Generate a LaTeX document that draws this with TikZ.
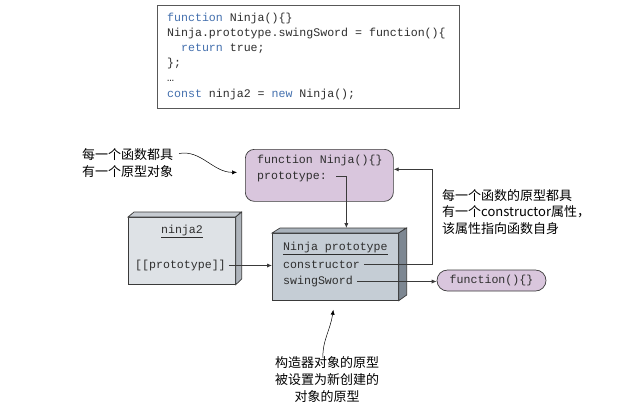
\documentclass[tikz,border=0pt]{standalone}
\usepackage{fontspec}
\setmonofont{Liberation Mono}
\newfontfamily\cjk{Noto Sans CJK SC}
\usetikzlibrary{arrows.meta,shapes.misc}
\definecolor{kw}{HTML}{4470AE}
\definecolor{codetxt}{HTML}{2E2E2E}
\definecolor{lav}{HTML}{D9C6DD}
\definecolor{edge}{HTML}{3A3A3A}
\definecolor{protofront}{HTML}{C5CDD5}
\definecolor{protoside}{HTML}{7D8792}
\definecolor{prototop}{HTML}{A9B2BB}
\definecolor{nfront}{HTML}{DEE2E6}
\definecolor{nside}{HTML}{AEB4BB}
\definecolor{ntop}{HTML}{C6CBD1}
\begin{document}
\begin{tikzpicture}[x=1bp,y=-1bp,
  mono/.style={font=\fontsize{11.6bp}{15.4bp}\selectfont\ttfamily, text=codetxt, inner sep=0pt},
  cn/.style={font=\cjk\fontsize{13bp}{16.5bp}\selectfont, text=black, inner sep=0pt},
  boxline/.style={draw=edge, line width=0.7bp},
  conn/.style={draw=edge, line width=0.8bp, -{Latex[length=5bp,width=4.2bp]}},
  notearrow/.style={draw=black, line width=0.5bp, -{Latex[length=5bp,width=4.2bp]}},
  kwd/.style={}]
\useasboundingbox[fill=white] (0,0) rectangle (636,418);

% code box
\node[draw=edge!85, line width=0.7bp, anchor=north west, minimum width=302bp, minimum height=103bp, inner sep=0pt] (code) at (157,5) {};
\node[mono, anchor=base west] (c1) at (167,21) {\textcolor{kw}{function} Ninja()\{\}};
\node[mono, anchor=base west] (c2) at (167,36.2) {Ninja.prototype.swingSword = function()\{};
\node[mono, anchor=base west] (c3) at (167,51.4) {\ \ \textcolor{kw}{return} true;};
\node[mono, anchor=base west] (c4) at (167,66.6) {\};};
\node[mono, anchor=base west] (c5) at (167,81.8) {…};
\node[mono, anchor=base west] (c6) at (167,97) {\textcolor{kw}{const} ninja2 = \textcolor{kw}{new} Ninja();};

% function Ninja box
\node[boxline, fill=lav, rounded corners=9bp, anchor=north west, minimum width=148bp, minimum height=52bp, inner sep=0pt] (fn) at (245,149) {};
\node[mono, anchor=base west] (fnA) at (257,163) {function Ninja()\{\}};
\node[mono, anchor=base west] (fnB) at (257,179) {prototype:};

% ninja2 3D box
\node[boxline, fill=nfront, anchor=north west, minimum width=107bp, minimum height=67bp, inner sep=0pt] (n2) at (128,217) {};
\draw[boxline, fill=ntop] (n2.north west) -- ++(6,-5) -- ++(107,0) -- (n2.north east) -- cycle;
\draw[boxline, fill=nside] (n2.north east) -- ++(6,-5) -- ++(0,67) -- (n2.south east) -- cycle;
\node[mono, anchor=base] (n2t) at (182,233) {\underline{ninja2}};
\node[mono, anchor=base west] (n2p) at (135,268.5) {[[prototype]]};

% Ninja prototype 3D box
\node[boxline, fill=protofront, anchor=north west, minimum width=126bp, minimum height=67bp, inner sep=0pt] (proto) at (272,233) {};
\draw[boxline, fill=prototop] (proto.north west) -- ++(8,-5) -- ++(126,0) -- (proto.north east) -- cycle;
\draw[boxline, fill=protoside] (proto.north east) -- ++(8,-5) -- ++(0,67) -- (proto.south east) -- cycle;
\node[mono, anchor=base west] (pt) at (283,250) {\underline{Ninja prototype}};
\node[mono, anchor=base west] (pc) at (283,268.5) {constructor};
\node[mono, anchor=base west] (ps) at (283,284.5) {swingSword};

% function(){} box
\node[boxline, fill=lav, rounded rectangle, minimum width=109bp, minimum height=21bp, inner sep=0pt, mono] (fsmall) at (491.5,280.5) {function()\{\}};

% connectors
\coordinate (pstart) at ([xshift=9bp]fnB.east);
\coordinate (ptop) at ([shift={(11,-5)}]proto.north);
\draw[conn] (pstart) -| (ptop);

\coordinate (cstart) at ([xshift=4bp]pc.east);
\coordinate (ccorner) at ([xshift=39bp,yshift=6bp]fn.east);
\draw[conn] (cstart) -| (ccorner) -- (fn.east |- ccorner);

\coordinate (sstart) at ([xshift=4bp]ps.east);
\draw[conn] (sstart) -- (sstart -| fsmall.west);

\coordinate (nstart) at ([xshift=3bp]n2p.east);
\draw[conn] (nstart) -- (nstart -| proto.west);

% annotations
\node[cn, anchor=west, align=left] (lnote) at (82,163) {每一个函数都具\\有一个原型对象};
\node[cn, anchor=west, align=left] (rnote) at (442,212) {每一个函数的原型都具\\有一个constructor属性，\\该属性指向函数自身};
\node[cn, anchor=center, align=center, font=\cjk\fontsize{13bp}{17bp}\selectfont] (bnote) at (327,380) {构造器对象的原型\\被设置为新创建的\\对象的原型};

\coordinate (lstart) at (179,153.5);
\coordinate (lend) at ([xshift=-8bp,yshift=3bp]fn.west);
\draw[notearrow] (lstart) .. controls +(22,-4) and +(-24,0) .. (lend);

\coordinate (bstart) at ([xshift=-4bp,yshift=-1bp]bnote.north);
\coordinate (bend) at ([xshift=-2bp,yshift=-9bp]proto.south);
\draw[notearrow] (bstart) .. controls +(-1,-16) and +(-3,20) .. (bend);
\end{tikzpicture}
\end{document}
